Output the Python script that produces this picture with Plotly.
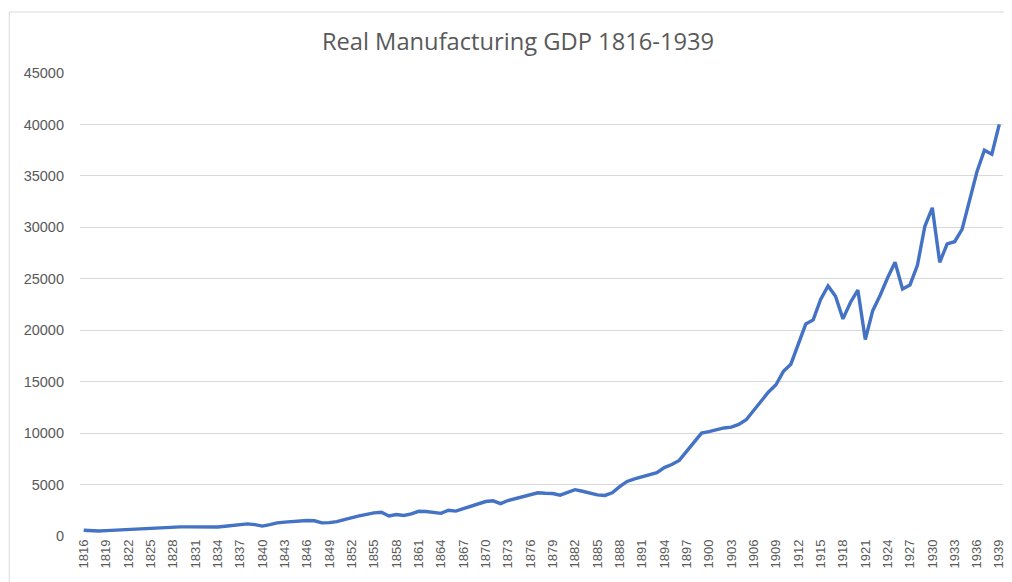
import plotly.graph_objects as go

years = list(range(1816, 1940))

gdp_1816_1825 = [560, 500, 480, 520, 560, 620, 660, 700, 760, 800]
gdp_1826_1835 = [850, 880, 890, 890, 890, 880, 880, 870, 880, 950]
gdp_1836_1845 = [1050, 1100, 1180, 1100, 960, 1100, 1270, 1350, 1410, 1450]
gdp_1846_1855 = [1500, 1480, 1280, 1300, 1400, 1600, 1800, 1950, 2100, 2250]
gdp_1856_1865 = [2300, 1950, 2090, 2000, 2150, 2400, 2380, 2300, 2200, 2500]
gdp_1866_1875 = [2420, 2650, 2900, 3100, 3350, 3420, 3150, 3450, 3650, 3800]
gdp_1876_1885 = [4050, 4200, 4150, 4130, 3970, 4250, 4500, 4350, 4150, 4000]
gdp_1886_1895 = [3940, 4200, 4800, 5300, 5550, 5750, 6000, 6150, 6650, 6950]
gdp_1896_1905 = [7350, 8250, 9200, 10000, 10150, 10350, 10500, 10580, 10850, 11300]
gdp_1906_1915 = [12200, 13100, 14000, 14700, 16000, 16700, 18700, 20600, 21000, 23000]
gdp_1916_1925 = [24300, 23300, 21100, 22700, 23900, 19100, 21900, 23400, 25100, 26600]
gdp_1926_1935 = [24000, 24400, 26300, 30100, 31900, 26600, 28400, 28600, 29800, 32500]
gdp_1936_1939 = [35400, 37500, 37100, 40000]

gdp = (gdp_1816_1825 + gdp_1826_1835 + gdp_1836_1845 + gdp_1846_1855 + gdp_1856_1865
       + gdp_1866_1875 + gdp_1876_1885 + gdp_1886_1895 + gdp_1896_1905 + gdp_1906_1915
       + gdp_1916_1925 + gdp_1926_1935 + gdp_1936_1939)

tick_years = list(range(1816, 1940, 3))
y_ticks = list(range(0, 45001, 5000))

# page body has an 8px margin; the figure sits at (8, 8)
W, H = 1004, 574
L, R, T, B = 72, 6, 65, 46
pw, ph = W - L - R, H - T - B

fig = go.Figure()
fig.add_trace(go.Scatter(
    x=years, y=gdp, mode="lines",
    line=dict(color="#4472C4", width=3.4),
    showlegend=False, hoverinfo="x+y",
))

fig.update_layout(
    width=W, height=H,
    margin=dict(l=L, r=R, t=T, b=B),
    paper_bgcolor="white", plot_bgcolor="white",
    font=dict(family="Liberation Sans, Arial, sans-serif", color="#595959", size=12),
    title=dict(
        text="Real Manufacturing GDP 1816-1939",
        x=510 / W, xanchor="center", xref="container",
        y=1 - 34 / H, yanchor="middle", yref="container",
        font=dict(family="Open Sans, sans-serif", size=23.7, color="#595959"),
    ),
    xaxis=dict(
        range=[1815.5, 1939.5],
        tickmode="array", tickvals=tick_years, ticktext=[str(y) for y in tick_years],
        tickangle=-90, showgrid=False, zeroline=False,
        showline=False, ticks="",
        tickfont=dict(size=13, color="#595959"),
    ),
    yaxis=dict(
        range=[0, 45000],
        tickmode="array", tickvals=y_ticks, ticktext=[str(v) for v in y_ticks],
        showgrid=True, gridcolor="#d9d9d9", gridwidth=1,
        zeroline=False, showline=False, ticks="",
        ticklabelstandoff=15,
        tickfont=dict(size=14.5, color="#595959"),
    ),
    shapes=[dict(
        type="rect", xref="paper", yref="paper",
        x0=(1 - L) / pw, x1=(1002 - L) / pw,
        y0=-0.3, y1=(H - B - 4) / ph,
        line=dict(color="#d9d9d9", width=1), fillcolor="rgba(0,0,0,0)", layer="below",
    )],
)

fig.write_html("out.html")
